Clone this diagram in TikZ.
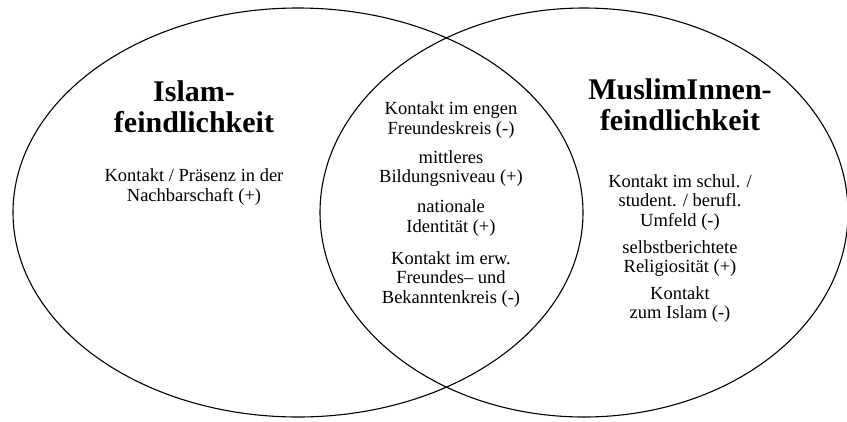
\documentclass[tikz,border=0pt]{standalone}
\usepackage{fontspec}
\setmainfont{Liberation Serif}
\usetikzlibrary{positioning}
\usetikzlibrary{shapes.geometric}
\tikzstyle{set}=[draw, ellipse, line width=1.1pt, inner sep=0pt]
\tikzstyle{settitle}=[align=center, inner sep=0pt, font=\fontsize{30}{31}\selectfont\bfseries]
\tikzstyle{factor}=[align=center, inner sep=0pt, font=\fontsize{18.5}{19.5}\selectfont]

\begin{document}
\begin{tikzpicture}[x=1pt, y=-1pt]
          \useasboundingbox (0, 0) rectangle (847, 421);
          \node[set, minimum width=570pt, minimum height=409pt] (islam) at (298, 212.5) {};
          \node[set, minimum width=528pt, minimum height=409pt] (muslim) at (584, 212.5) {};
          % Islamfeindlichkeit
          \node[settitle, anchor=north] (islamtitle) at (194, 80) {Islam-\\feindlichkeit};
          \node[factor, below=36pt of islamtitle] (nachbar) {Kontakt / Präsenz in der\\Nachbarschaft (+)};
          % Schnittmenge
          \node[factor, anchor=north] (engen) at (451, 101.5) {Kontakt im engen\\Freundeskreis (-)};
          \node[factor, below=12pt of engen] (bildung) {mittleres\\Bildungsniveau (+)};
          \node[factor, below=13pt of bildung] (identitaet) {nationale\\Identität (+)};
          \node[factor, below=14.5pt of identitaet] (erw) {Kontakt im erw.\\Freundes– und\\Bekanntenkreis (-)};
          % MuslimInnenfeindlichkeit
          \node[settitle, anchor=north] (muslimtitle) at (680, 78) {MuslimInnen-\\feindlichkeit};
          \node[factor, below=43.5pt of muslimtitle] (umfeld) {Kontakt im schul. /\\student. / berufl.\\Umfeld (-)};
          \node[factor, below=10pt of umfeld] (religio) {selbstberichtete\\Religiosität (+)};
          \node[factor, below=9.5pt of religio] (islamkontakt) {Kontakt\\zum Islam (-)};
        \end{tikzpicture}
\end{document}
